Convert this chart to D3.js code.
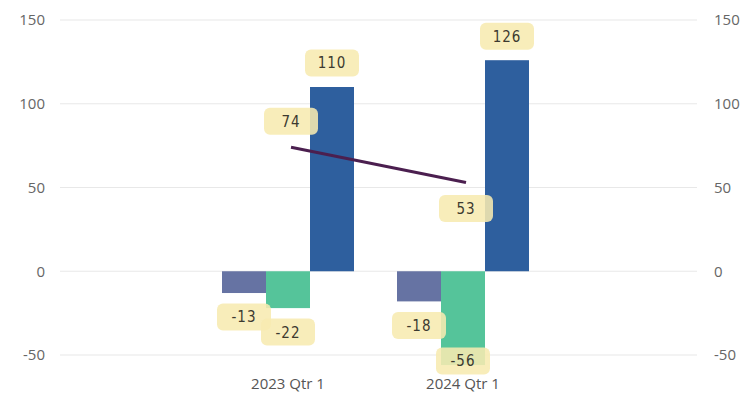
<!DOCTYPE html>
<html>
<head>
<meta charset="utf-8">
<script src="https://cdn.jsdelivr.net/npm/d3@7"></script>
<style>
  html, body { margin: 0; padding: 0; background: #ffffff; }
  svg { display: block; }
</style>
</head>
<body>
<svg id="chart" width="747" height="399"></svg>
<script>
// Quarterly values per series
const categories = ["2023 Qtr 1", "2024 Qtr 1"];
const seriesNames = ["A", "B", "C"];
const seriesA = [-13, -18];
const seriesB = [-22, -56];
const seriesC = [110, 126];
const lineValues = [74, 53];
const yTicks = [-50, 0, 50, 100, 150];

const colors = { A: "#6673a3", B: "#55c49a", C: "#2e5f9e" };
const lineColor = "#4b1f4f";

const W = 747, H = 399;
const svg = d3.select("#chart");

const y = d3.scaleLinear().domain([-50, 150]).range([355, 20]);

const x0 = d3.scaleBand()
  .domain(categories)
  .range([200.5, 550.5])
  .paddingInner(0.2457)
  .paddingOuter(0.12285);

const x1 = d3.scaleBand()
  .domain(seriesNames)
  .range([0, x0.bandwidth()]);

const axisFont = "'Open Sans', 'Noto Sans', sans-serif";
const labelFont = "'DejaVu Sans Condensed', 'DejaVu Sans', sans-serif";

// Gridlines
svg.append("g")
  .selectAll("line")
  .data(yTicks)
  .join("line")
  .attr("x1", 60).attr("x2", 697)
  .attr("y1", d => y(d)).attr("y2", d => y(d))
  .attr("stroke", "#e8e8e8")
  .attr("stroke-width", 1.2);

// Left and right value axes (plain hyphen for negatives)
const fmt = d => String(d);
const leftAxis = d3.axisLeft(y).tickValues(yTicks).tickFormat(fmt).tickSize(0).tickPadding(0);
const rightAxis = d3.axisRight(y).tickValues(yTicks).tickFormat(fmt).tickSize(0).tickPadding(0);

function styleAxis(g) {
  g.select(".domain").remove();
  g.selectAll("text")
    .attr("fill", "#666666")
    .style("font-family", axisFont)
    .style("font-size", "15px");
}
svg.append("g").attr("transform", "translate(45,0)").call(leftAxis).call(styleAxis);
svg.append("g").attr("transform", "translate(714,0)").call(rightAxis).call(styleAxis);

// Category axis
const xAxis = d3.axisBottom(x0).tickSize(0).tickPadding(0);
svg.append("g")
  .attr("transform", "translate(0,376)")
  .call(xAxis)
  .call(g => {
    g.select(".domain").remove();
    g.selectAll("text")
      .attr("fill", "#555555")
      .attr("dy", "0.85em")
      .style("font-family", axisFont)
      .style("font-size", "15px");
  });

// Bars
const barData = [];
categories.forEach((c, i) => {
  [["A", seriesA], ["B", seriesB], ["C", seriesC]].forEach(([s, arr]) => {
    barData.push({ cat: c, series: s, value: arr[i] });
  });
});

svg.append("g")
  .selectAll("rect")
  .data(barData)
  .join("rect")
  .attr("x", d => x0(d.cat) + x1(d.series))
  .attr("width", x1.bandwidth())
  .attr("y", d => y(Math.max(0, d.value)))
  .attr("height", d => Math.abs(y(d.value) - y(0)))
  .attr("fill", d => colors[d.series]);

// Line series
const linePts = categories.map((c, i) => ({
  cat: c, value: lineValues[i],
  x: x0(c) + x0.bandwidth() / 2 + 3,
  y: y(lineValues[i])
}));

svg.append("path")
  .datum(linePts)
  .attr("fill", "none")
  .attr("stroke", lineColor)
  .attr("stroke-width", 3)
  .attr("d", d3.line().x(d => d.x).y(d => d.y));

// Data labels
const labels = [];
const bottomLimit = H - 38;
barData.forEach(d => {
  const cx = x0(d.cat) + x1(d.series) + x1.bandwidth() / 2;
  let cy;
  if (d.value >= 0) {
    cy = y(d.value) - 24;
  } else {
    cy = Math.min(y(d.value) + 24, bottomLimit);
  }
  labels.push({ text: String(d.value), x: cx, y: cy });
});
linePts.forEach((p, i) => {
  // Above the first point of a falling line, below the last one
  const next = linePts[i + 1];
  const above = next ? next.value <= p.value : false;
  labels.push({ text: String(p.value), x: p.x, y: p.y + (above ? -26 : 26) });
});

const lg = svg.append("g")
  .selectAll("g")
  .data(labels)
  .join("g")
  .attr("transform", d => `translate(${d.x},${d.y})`);

lg.append("rect")
  .attr("x", -27).attr("y", -13.5)
  .attr("width", 54).attr("height", 27)
  .attr("rx", 6)
  .attr("fill", "#f7ebb0")
  .attr("fill-opacity", 0.88);

lg.append("text")
  .attr("text-anchor", "middle")
  .attr("dy", "0.36em")
  .attr("fill", "#3c3a30")
  .style("font-family", labelFont)
  .style("font-size", "15px")
  .style("letter-spacing", "1px")
  .text(d => d.text);
</script>
</body>
</html>
